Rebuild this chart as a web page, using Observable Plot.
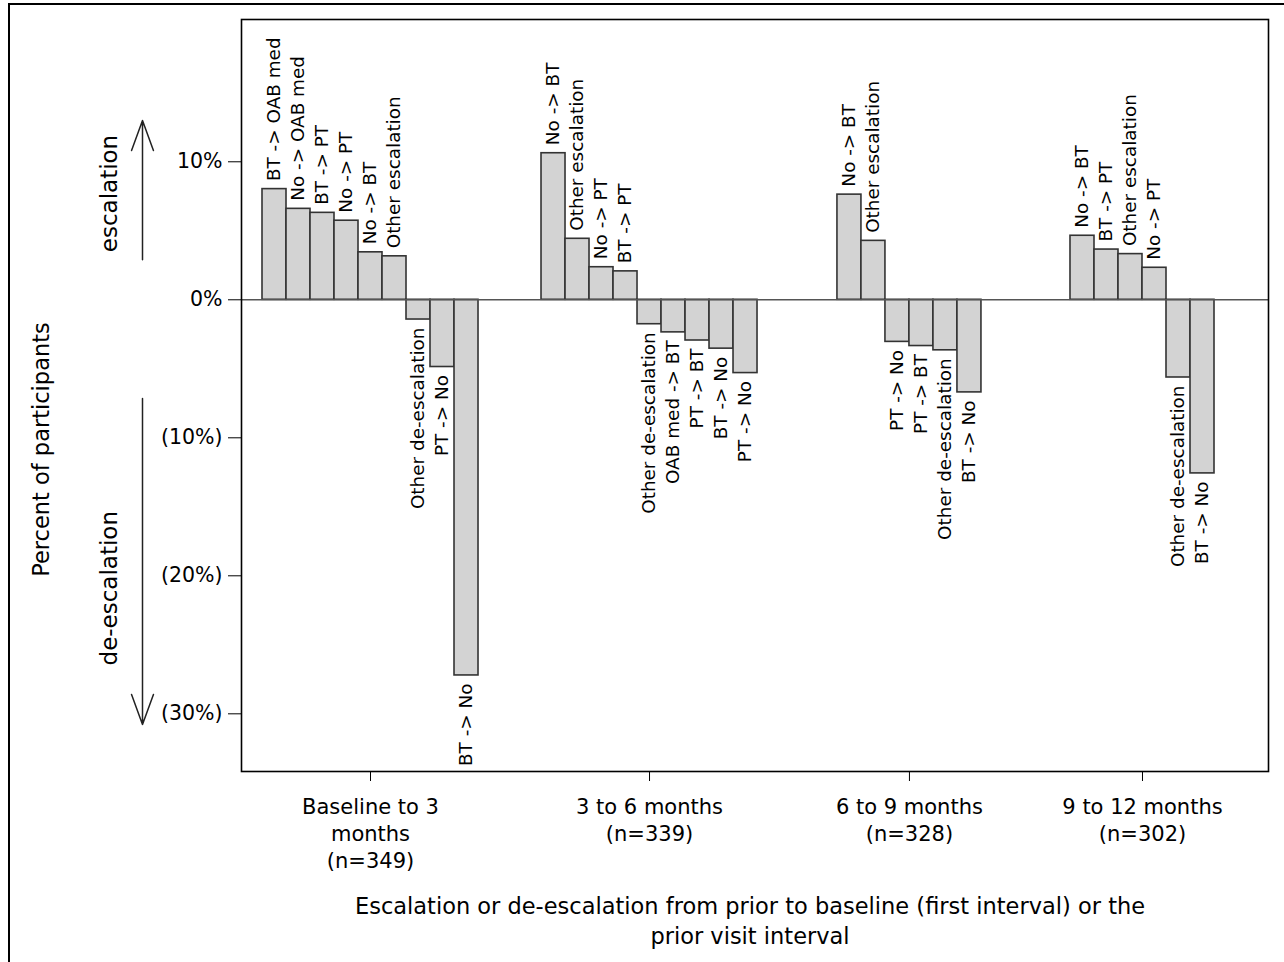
<!DOCTYPE html>
<html>
<head>
<meta charset="utf-8">
<script src="https://cdn.jsdelivr.net/npm/d3@7"></script>
<script src="https://cdn.jsdelivr.net/npm/@observablehq/plot@0.6"></script>
<style>
  html, body { margin: 0; padding: 0; background: #fff; overflow: hidden; }
  #wrap { position: relative; width: 1284px; height: 962px; overflow: hidden; }
  #border { position: absolute; left: 8px; top: 3px; width: 1400px; height: 1100px; border: 2px solid #000; box-sizing: border-box; }
  #chart { position: absolute; left: 0; top: 0; }
</style>
</head>
<body>
<div id="wrap"><div id="border"></div><div id="chart"></div></div>
<script>
// ---- Data ----
const groupLabels = [
  "Baseline to 3\nmonths\n(n=349)",
  "3 to 6 months\n(n=339)",
  "6 to 9 months\n(n=328)",
  "9 to 12 months\n(n=302)"
];
const g1Labels = ["BT -> OAB med", "No -> OAB med", "BT -> PT", "No -> PT", "No -> BT", "Other escalation", "Other de-escalation", "PT -> No", "BT -> No"];
const g1Values = [8.02, 6.59, 6.30, 5.73, 3.44, 3.15, -1.43, -4.87, -27.22];
const g2Labels = ["No -> BT", "Other escalation", "No -> PT", "BT -> PT", "Other de-escalation", "OAB med -> BT", "PT -> BT", "BT -> No", "PT -> No"];
const g2Values = [10.62, 4.42, 2.36, 2.06, -1.77, -2.36, -2.95, -3.54, -5.31];
const g3Labels = ["No -> BT", "Other escalation", "PT -> No", "PT -> BT", "Other de-escalation", "BT -> No"];
const g3Values = [7.62, 4.27, -3.05, -3.35, -3.66, -6.71];
const g4Labels = ["No -> BT", "BT -> PT", "Other escalation", "No -> PT", "Other de-escalation", "BT -> No"];
const g4Values = [4.64, 3.64, 3.31, 2.32, -5.63, -12.58];
const yTicks = [10, 0, -10, -20, -30];
const xTitle = "Escalation or de-escalation from prior to baseline (first interval) or the\nprior visit interval";
const yTitle = "Percent of participants";
const upLabel = "escalation";
const downLabel = "de-escalation";

// ---- Layout (in bar-width units along x) ----
const groupLabelSets = [g1Labels, g2Labels, g3Labels, g4Labels];
const groupValueSets = [g1Values, g2Values, g3Values, g4Values];
const leadGap = 0.875;
const betweenGaps = [2.625, 3.33, 3.71];
const trailGap = 2.25;

const bars = [];
const centers = [];
let cursor = leadGap;
groupValueSets.forEach((vals, g) => {
  const start = cursor;
  vals.forEach((v, i) => {
    bars.push({group: g, label: groupLabelSets[g][i], value: v, x1: start + i, x2: start + i + 1, xc: start + i + 0.5});
  });
  centers.push(start + vals.length / 2);
  cursor = start + vals.length + (g < betweenGaps.length ? betweenGaps[g] : trailGap);
});
const xMax = cursor;
const centerLabel = new Map(centers.map((c, i) => [c, groupLabels[i]]));

const fmtPct = d => d < 0 ? `(${Math.abs(d)}%)` : `${d}%`;

const chart = Plot.plot({
  width: 1284,
  height: 962,
  marginLeft: 241,
  marginRight: 16,
  marginTop: 19,
  marginBottom: 191,
  style: {fontFamily: "DejaVu Sans", background: "transparent", color: "#000", overflow: "visible"},
  x: {type: "linear", domain: [0, xMax], axis: null},
  y: {domain: [-34.18, 20.31], axis: null},
  marks: [
    Plot.rect(bars, {x1: "x1", x2: "x2", y1: 0, y2: "value", fill: "#d3d3d3", stroke: "#333", strokeWidth: 1.6}),
    Plot.ruleY([0], {stroke: "#555", strokeWidth: 1.5}),
    Plot.frame({stroke: "#000", strokeWidth: 1.6}),
    Plot.text(bars.filter(d => d.value >= 0), {x: "xc", y: "value", text: "label", rotate: -90, textAnchor: "start", dy: -8, fontSize: 18.4, fill: "#000"}),
    Plot.text(bars.filter(d => d.value < 0), {x: "xc", y: "value", text: "label", rotate: -90, textAnchor: "end", dy: 8, fontSize: 18.4, fill: "#000"}),
    Plot.axisY({ticks: yTicks, tickFormat: fmtPct, tickSize: 13, tickPadding: 6, fontSize: 20.5, label: null, stroke: "#000"}),
    Plot.axisX({ticks: centers, tickFormat: d => centerLabel.get(d), tickSize: 10, tickPadding: 13, fontSize: 21, lineHeight: 27 / 21, label: null, stroke: "#000"}),
    Plot.text([xTitle], {text: d => d, frameAnchor: "bottom", dx: -5, dy: 148, lineAnchor: "middle", lineHeight: 30 / 22.5, fontSize: 22.5}),
    Plot.text([yTitle], {text: d => d, x: 0, y: -10.85, dx: -200, rotate: -90, fontSize: 22.5}),
    Plot.text([upLabel], {text: d => d, x: 0, y: 7.7, dx: -132, rotate: -90, fontSize: 23}),
    Plot.text([downLabel], {text: d => d, x: 0, y: -20.9, dx: -132, rotate: -90, fontSize: 23}),
    Plot.arrow([upLabel], {x1: 0, x2: 0, y1: 2.9, y2: 13.0, dx: -99, headLength: 32, headAngle: 40, stroke: "#222", strokeWidth: 1.5}),
    Plot.arrow([downLabel], {x1: 0, x2: 0, y1: -7.15, y2: -30.78, dx: -99, headLength: 32, headAngle: 40, stroke: "#222", strokeWidth: 1.5})
  ]
});
document.getElementById("chart").appendChild(chart);
</script>
</body>
</html>
